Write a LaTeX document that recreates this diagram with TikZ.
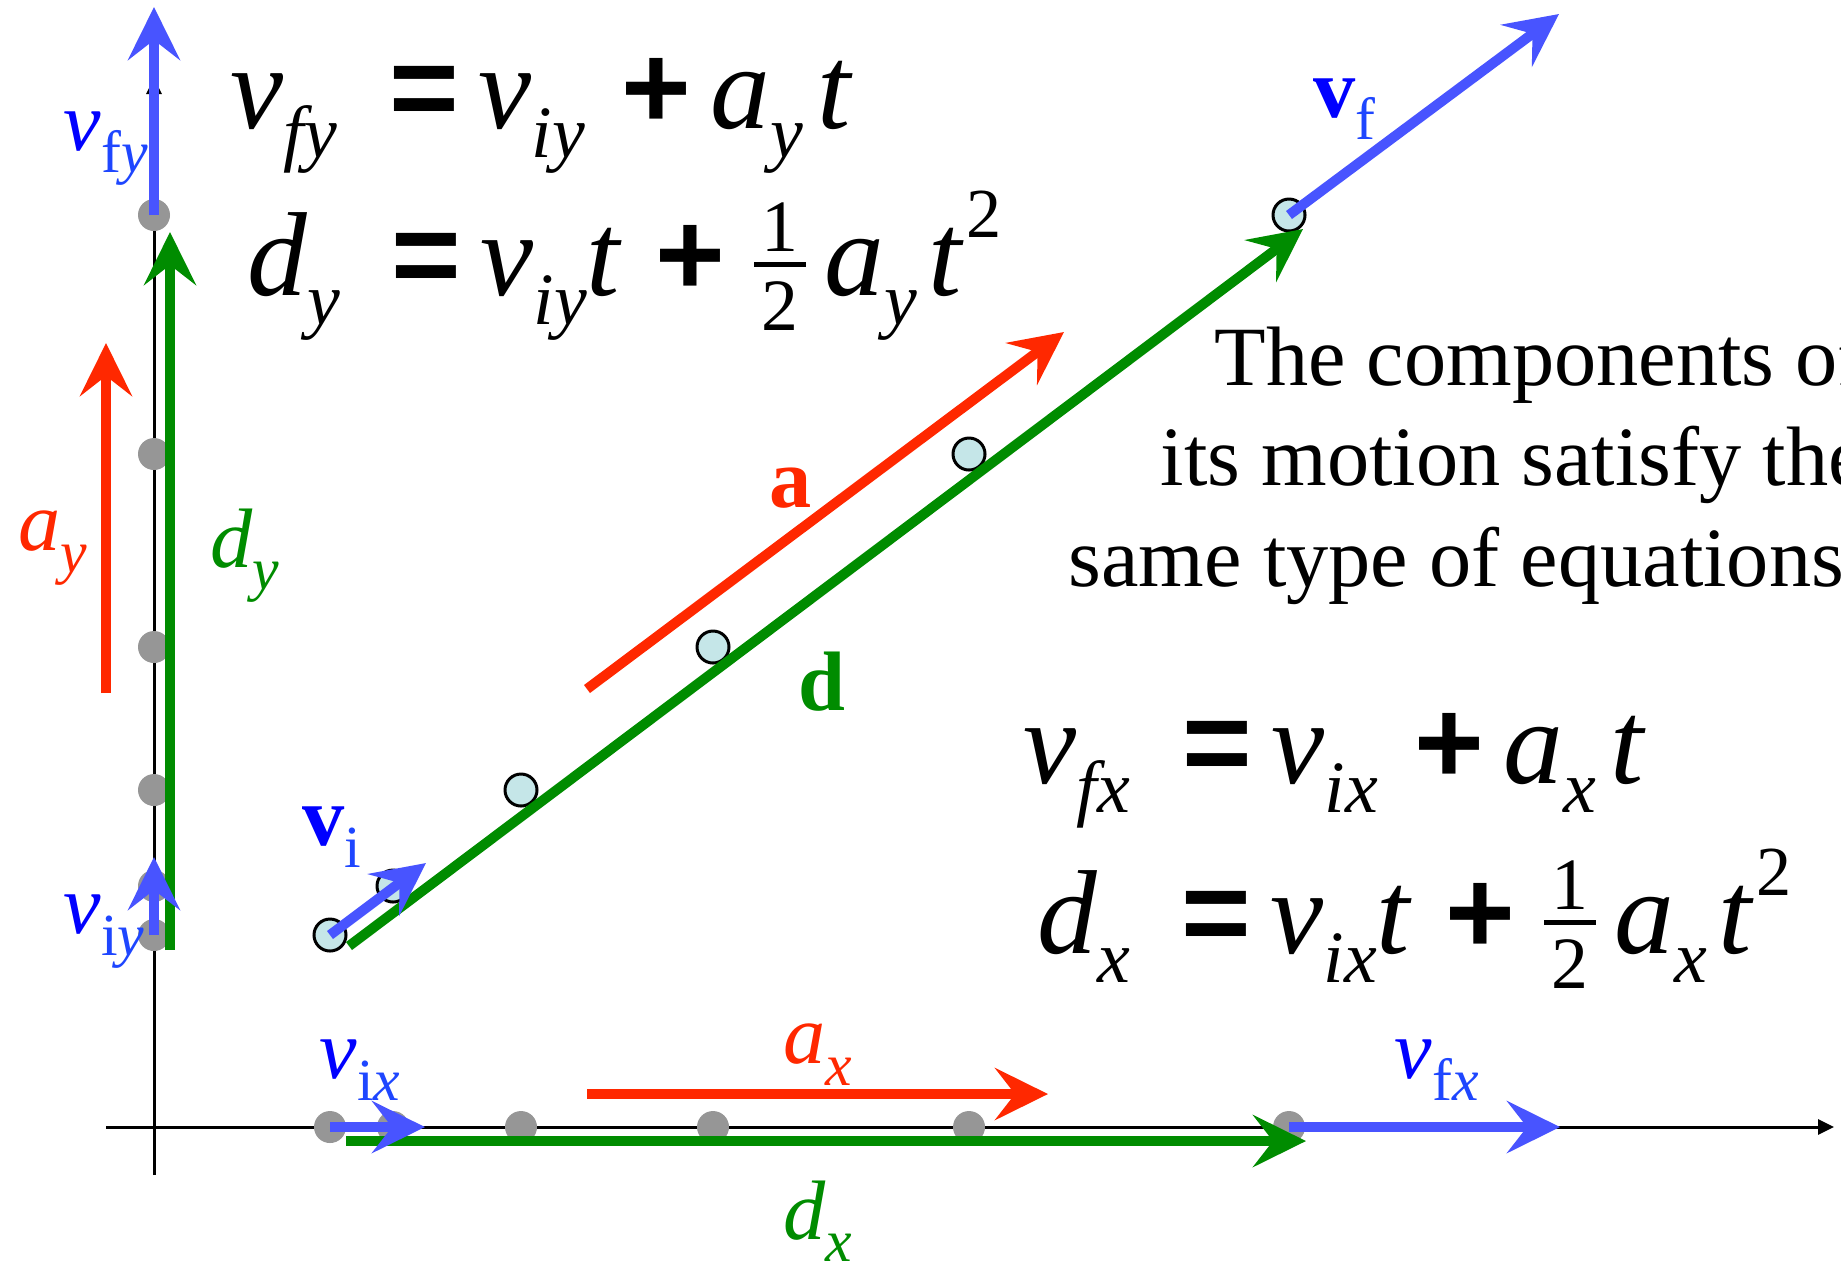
\documentclass[tikz,border=0pt]{standalone}
\usepackage{fontspec}
\setmainfont{Liberation Serif}
\newfontfamily\opfont{Liberation Sans}
\usepackage{graphicx}
\usetikzlibrary{arrows.meta}

\definecolor{velblue}{RGB}{72,84,255}
\definecolor{txtblue}{RGB}{0,0,255}
\definecolor{subblue}{RGB}{30,70,255}
\definecolor{accred}{RGB}{255,40,0}
\definecolor{dispgreen}{RGB}{0,140,0}
\definecolor{dotgray}{RGB}{150,150,150}
\definecolor{dotcyan}{RGB}{197,230,232}

\newcommand{\eqsub}[1]{\raisebox{-0.25em}{\fontsize{21}{21}\selectfont\itshape #1}}
\newcommand{\eqsup}[1]{\raisebox{0.48em}{\fontsize{20}{20}\selectfont\upshape #1}}
\newcommand{\eqop}[1]{{\opfont\bfseries\upshape #1}}
\newcommand{\eqhalf}{\raisebox{-10pt}{\vbox{\fontsize{21}{21}\selectfont\upshape
    \hbox to 14.8pt{\hss 1\hss}\kern3pt\hrule height 1.4pt\kern4pt\hbox to 14.8pt{\hss 2\hss}}}}
\newcommand{\lbsub}[1]{\raisebox{-0.27em}{\fontsize{17}{17}\selectfont #1}}

\begin{document}
\begin{tikzpicture}[
    x=0.1mm, y=-0.1mm,
    vel/.style={draw=velblue, line width=1mm, -{Stealth[length=5.3mm,width=5.2mm,inset=2mm]}},
    acc/.style={vel, draw=accred},
    disp/.style={vel, draw=dispgreen},
    axis/.style={draw=black, line width=0.3mm, -{Triangle[length=1.6mm,width=1.5mm]}},
    proj/.style={circle, fill=dotgray, minimum size=3.2mm, inner sep=0pt},
    spot/.style={circle, draw=black, line width=0.3mm, fill=dotcyan, minimum size=3.2mm, inner sep=0pt},
    lbl/.style={anchor=base west, inner sep=0pt, font=\fontsize{24}{24}\selectfont},
    eqn/.style={anchor=base west, inner sep=0pt, font=\fontsize{34}{34}\selectfont\itshape},
    note/.style={anchor=base west, inner sep=0pt, font=\fontsize{24}{24}\selectfont}
]

\fill[white, use as bounding box] (0,0) rectangle (1841,1262);
\clip (0,0) rectangle (1841,1262);

\coordinate (yaxbot) at (154,1175);
\coordinate (yaxtop) at (154,78);
\coordinate (xaxleft) at (106,1127);
\coordinate (xaxright) at (1834,1127);
\draw[axis] (yaxbot) -- (yaxtop);
\draw[axis] (xaxleft) -- (xaxright);

\foreach \n/\px/\py in {1/330/935, 2/393/886, 3/521/790, 4/713/647, 5/969/454, 6/1289/215} {
    \node[proj] (q\n) at (154,\py) {};
    \node[proj] (r\n) at (\px,1127) {};
    \node[spot] (p\n) at (\px,\py) {};
}

\coordinate (vfytip) at (154,7);
\coordinate (viytip) at (154,857);
\coordinate (dybot) at (170,950);
\coordinate (dytip) at (170,232);
\coordinate (aybot) at (106,693);
\coordinate (aytip) at (106,343);
\coordinate (vitip) at (426,863);
\coordinate (dbot) at (349,946);
\coordinate (dtip) at (1303,229);
\coordinate (abot) at (587,689);
\coordinate (atip) at (1064,332);
\coordinate (vftip) at (1559,14);
\coordinate (vixtip) at (425,1127);
\coordinate (dxbot) at (346,1141);
\coordinate (dxtip) at (1306,1141);
\coordinate (axbot) at (587,1094);
\coordinate (axtip) at (1048,1094);
\coordinate (vfxtip) at (1560,1127);

\draw[disp] (dybot) -- (dytip);
\draw[acc] (aybot) -- (aytip);
\draw[vel] (q6.center) -- (vfytip);
\draw[vel] (q1.center) -- (viytip);

\draw[disp] (dbot) -- (dtip);
\draw[acc] (abot) -- (atip);
\draw[vel] (p1.center) -- (vitip);
\draw[vel] (p6.center) -- (vftip);

\draw[disp] (dxbot) -- (dxtip);
\draw[acc] (axbot) -- (axtip);
\draw[vel] (r1.center) -- (vixtip);
\draw[vel] (r6.center) -- (vfxtip);

\node[lbl] (lvfy) at (63,150) {\textcolor{txtblue}{\itshape v}\lbsub{\color{subblue}f\textit{y}}};
\node[lbl] (lviy) at (63,933) {\textcolor{txtblue}{\itshape v}\lbsub{\color{subblue}i\textit{y}}};
\node[lbl] (lay) at (18,550) {\color{accred}\itshape a\lbsub{y}};
\node[lbl] (ldy) at (210,567) {\color{dispgreen}\itshape d\lbsub{y}};
\node[lbl] (lvi) at (302,845) {\textcolor{txtblue}{\bfseries v}\lbsub{\color{subblue}i}};
\node[lbl] (lvix) at (319,1078) {\textcolor{txtblue}{\itshape v}\lbsub{\color{subblue}i\textit{x}}};
\node[lbl] (la) at (769,507) {\color{accred}\bfseries a};
\node[lbl] (ld) at (798,710) {\color{dispgreen}\bfseries d};
\node[lbl] (lvf) at (1313,117) {\textcolor{txtblue}{\bfseries v}\lbsub{\color{subblue}f}};
\node[lbl] (lax) at (783,1063) {\color{accred}\itshape a\lbsub{x}};
\node[lbl] (ldx) at (783,1239) {\color{dispgreen}\itshape d\lbsub{x}};
\node[lbl] (lvfx) at (1394,1078) {\textcolor{txtblue}{\itshape v}\lbsub{\color{subblue}f\textit{x}}};

\node[eqn] (eqvy) at (230,128) {v\eqsub{fy}\hspace{.44em}\eqop{=}\hspace{.16em}v\eqsub{iy}\hspace{.31em}\eqop{+}\hspace{.16em}a\eqsub{y}\hspace{.12em}t};
\node[eqn] (eqdy) at (247,295) {d\eqsub{y}\hspace{.43em}\eqop{=}\hspace{.16em}v\eqsub{iy}t\hspace{.3em}\eqop{+}\hspace{.24em}\eqhalf\hspace{.15em}a\eqsub{y}\hspace{.1em}t\hspace{.04em}\eqsup{2}};
\node[eqn] (eqvx) at (1023,783) {v\eqsub{fx}\hspace{.44em}\eqop{=}\hspace{.16em}v\eqsub{ix}\hspace{.31em}\eqop{+}\hspace{.16em}a\eqsub{x}\hspace{.12em}t};
\node[eqn] (eqdx) at (1037,953) {d\eqsub{x}\hspace{.43em}\eqop{=}\hspace{.16em}v\eqsub{ix}t\hspace{.3em}\eqop{+}\hspace{.24em}\eqhalf\hspace{.15em}a\eqsub{x}\hspace{.1em}t\hspace{.04em}\eqsup{2}};

\node[note] (line1) at (1214,385) {The components of};
\node[note] (line2) at (1160,485) {its motion satisfy the};
\node[note] (line3) at (1068,586) {same type of equations};

\end{tikzpicture}
\end{document}
